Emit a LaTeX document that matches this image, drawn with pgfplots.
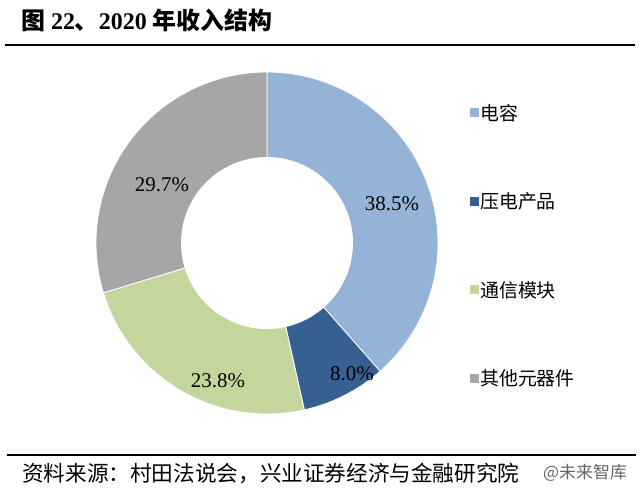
\documentclass[border=0pt]{standalone}
\usepackage{pgfplots}
\pgfplotsset{compat=1.18}
\usepackage{fontspec}
\setmainfont{Liberation Serif}
\newfontfamily\cjk{Noto Sans CJK SC}
\definecolor{cA}{RGB}{149,179,215}
\definecolor{cB}{RGB}{55,96,146}
\definecolor{cC}{RGB}{195,214,155}
\definecolor{cD}{RGB}{166,166,166}
% shares (%)
\def\vA{38.5}\def\vB{8.0}\def\vC{23.8}\def\vD{29.7}
\pgfmathsetmacro\aA{90}
\pgfmathsetmacro\aB{\aA-3.6*\vA}
\pgfmathsetmacro\aC{\aB-3.6*\vB}
\pgfmathsetmacro\aD{\aC-3.6*\vC}
\pgfmathsetmacro\aE{\aD-3.6*\vD}
\def\cx{267}\def\cy{243}\def\R{171}\def\r{86}
\begin{document}
\begin{tikzpicture}
\begin{axis}[x=1bp,y=1bp,xmin=0,xmax=640,ymin=0,ymax=494,y dir=reverse,
  hide axis, clip=false,
  legend cell align=left,
  legend image code/.code={\fill[#1,draw=none] (0bp,-4.5bp) rectangle (9bp,4.5bp);},
  legend style={at={(axis cs:467,101)}, anchor=north west, draw=none, fill=none,
    font=\fontsize{19}{22}\selectfont\cjk, row sep=69bp,
    nodes={inner sep=1bp}}]
\path (axis cs:0,0) -- (axis cs:640,494);
\addplot[fill=cA, draw=white, line width=0.8bp, domain=\aB:\aA, samples=90, variable=\t]
  ({\cx+\R*cos(\t)},{\cy-\R*sin(\t)}) -- (axis cs:\cx,\cy) -- cycle;
\addlegendentry{电容}
\addplot[fill=cB, draw=white, line width=0.8bp, domain=\aC:\aB, samples=30, variable=\t]
  ({\cx+\R*cos(\t)},{\cy-\R*sin(\t)}) -- (axis cs:\cx,\cy) -- cycle;
\addlegendentry{压电产品}
\addplot[fill=cC, draw=white, line width=0.8bp, domain=\aD:\aC, samples=60, variable=\t]
  ({\cx+\R*cos(\t)},{\cy-\R*sin(\t)}) -- (axis cs:\cx,\cy) -- cycle;
\addlegendentry{通信模块}
\addplot[fill=cD, draw=white, line width=0.8bp, domain=\aE:\aD, samples=70, variable=\t]
  ({\cx+\R*cos(\t)},{\cy-\R*sin(\t)}) -- (axis cs:\cx,\cy) -- cycle;
\addlegendentry{其他元器件}
\addplot[forget plot, fill=white, draw=none, domain=0:360, samples=120, variable=\t]
  ({\cx+\r*cos(\t)},{\cy-\r*sin(\t)}) -- cycle;
% value labels
\node[font=\fontsize{21}{24}\selectfont] at (axis cs:392,204) {38.5\%};
\node[font=\fontsize{21}{24}\selectfont] at (axis cs:352,374) {8.0\%};
\node[font=\fontsize{21}{24}\selectfont] at (axis cs:218,381) {23.8\%};
\node[font=\fontsize{21}{24}\selectfont] at (axis cs:162,185) {29.7\%};
% title and rules
\node[anchor=west, inner sep=0pt, font=\fontsize{24}{28}\selectfont\bfseries] at (axis cs:21,20)
  {{\cjk 图} 22{\cjk 、}2020 {\cjk 年收入结构}};
\draw[line width=2bp] (axis cs:5,45) -- (axis cs:635,45);
\draw[line width=2bp] (axis cs:7,455) -- (axis cs:636,455);
\node[anchor=west, inner sep=0pt, font=\fontsize{21.7}{25}\selectfont\cjk] at (axis cs:22,473)
  {资料来源：村田法说会，兴业证券经济与金融研究院};
\node[anchor=west, inner sep=0pt, font=\fontsize{17}{20}\selectfont\cjk, text=black!60] at (axis cs:543,473)
  {@未来智库};
\end{axis}
\end{tikzpicture}
\end{document}
